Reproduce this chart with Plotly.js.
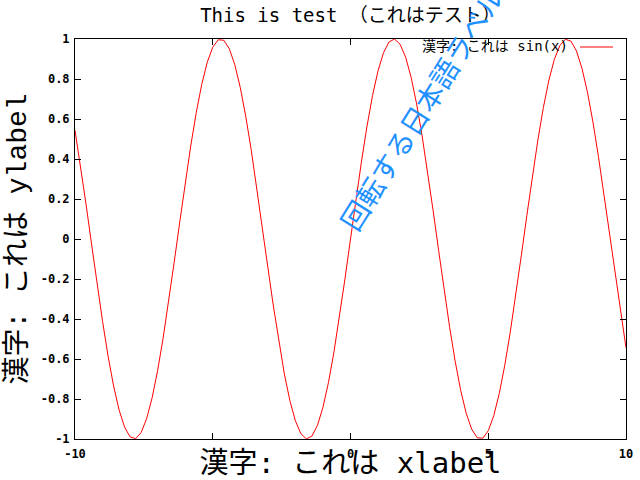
<!DOCTYPE html>
<html>
<head>
<meta charset="utf-8">
<script src="https://cdn.plot.ly/plotly-3.0.1.min.js"></script>
<style>html,body{margin:0;padding:0;background:#fff}#chart{width:640px;height:480px}</style>
</head>
<body>
<div id="chart"></div>
<script>
const xValues = [-10,-9.8,-9.6,-9.4,-9.2,-9,-8.8,-8.6,-8.4,-8.2,-8,-7.8,-7.6,-7.4,-7.2,-7,-6.8,-6.6,-6.4,-6.2,-6,-5.8,-5.6,-5.4,-5.2,-5,-4.8,-4.6,-4.4,-4.2,-4,-3.8,-3.6,-3.4,-3.2,-3,-2.8,-2.6,-2.4,-2.2,-2,-1.8,-1.6,-1.4,-1.2,-1,-0.8,-0.6,-0.4,-0.2,0,0.2,0.4,0.6,0.8,1,1.2,1.4,1.6,1.8,2,2.2,2.4,2.6,2.8,3,3.2,3.4,3.6,3.8,4,4.2,4.4,4.6,4.8,5,5.2,5.4,5.6,5.8,6,6.2,6.4,6.6,6.8,7,7.2,7.4,7.6,7.8,8,8.2,8.4,8.6,8.8,9,9.2,9.4,9.6,9.8,10];
const sinValues = [0.544,0.3665,0.1743,-0.0248,-0.2229,-0.4121,-0.5849,-0.7344,-0.8546,-0.9407,-0.9894,-0.9985,-0.9679,-0.8987,-0.7937,-0.657,-0.4941,-0.3115,-0.1165,0.0831,0.2794,0.4646,0.6313,0.7728,0.8835,0.9589,0.9962,0.9937,0.9516,0.8716,0.7568,0.6119,0.4425,0.2555,0.0584,-0.1411,-0.335,-0.5155,-0.6755,-0.8085,-0.9093,-0.9738,-0.9996,-0.9854,-0.932,-0.8415,-0.7174,-0.5646,-0.3894,-0.1987,0,0.1987,0.3894,0.5646,0.7174,0.8415,0.932,0.9854,0.9996,0.9738,0.9093,0.8085,0.6755,0.5155,0.335,0.1411,-0.0584,-0.2555,-0.4425,-0.6119,-0.7568,-0.8716,-0.9516,-0.9937,-0.9962,-0.9589,-0.8835,-0.7728,-0.6313,-0.4646,-0.2794,-0.0831,0.1165,0.3115,0.4941,0.657,0.7937,0.8987,0.9679,0.9985,0.9894,0.9407,0.8546,0.7344,0.5849,0.4121,0.2229,0.0248,-0.1743,-0.3665,-0.544];
const xTickVals = [-10,-5,0,5,10];
const xTickText = ['-10','','0','5','10'];
const yTickVals = [-1,-0.8,-0.6,-0.4,-0.2,0,0.2,0.4,0.6,0.8,1];
const yTickText = ['-1','-0.8','-0.6','-0.4','-0.2','0','0.2','0.4','0.6','0.8','1'];
const seriesName = '漢字: これは sin(x)';
const titleText = 'This is test （これはテスト）';
const xLabel = '漢字: これは xlabel';
const yLabel = '漢字: これは ylabel';
const rotatedLabel = '回転する日本語ラベル';

const monoCjk = '"DejaVu Sans Mono", "Noto Sans CJK JP", monospace';
const cjk = '"Noto Sans CJK JP", "Noto Sans", sans-serif';
const tickFont = {family: '"DejaVu Sans Mono", monospace', size: 12, color: '#000', weight: 'bold'};

const trace = {
  x: xValues, y: sinValues, type: 'scatter', mode: 'lines',
  name: seriesName, line: {color: '#ff0000', width: 1}, showlegend: false
};

const layout = {
  width: 640, height: 480,
  margin: {l: 75, r: 14, t: 39, b: 41},
  paper_bgcolor: '#fff', plot_bgcolor: '#fff',
  title: {text: titleText, font: {family: monoCjk, size: 19, color: '#000'},
          xref: 'paper', x: 0.5, yref: 'container', y: 0.968, yanchor: 'middle'},
  xaxis: {
    range: [-10, 10], tickvals: xTickVals, ticktext: xTickText,
    ticks: 'inside', ticklen: 6, tickcolor: '#000', mirror: 'ticks',
    showline: true, linecolor: '#000', linewidth: 1, showgrid: false, zeroline: false,
    tickfont: tickFont, ticklabelstandoff: 4,
    title: {text: xLabel, font: {family: monoCjk, size: 29, color: '#000'}, standoff: 2}
  },
  yaxis: {
    range: [-1, 1], tickvals: yTickVals, ticktext: yTickText,
    ticks: 'inside', ticklen: 6, tickcolor: '#000', mirror: 'ticks',
    showline: true, linecolor: '#000', linewidth: 1, showgrid: false, zeroline: false,
    tickfont: tickFont, ticklabelstandoff: 2,
    title: {text: yLabel, font: {family: '"Liberation Mono", "Noto Sans CJK JP", monospace', size: 28, color: '#000'}, standoff: 5}
  },
  shapes: [
    {type: 'line', xref: 'paper', yref: 'paper', x0: 0.9165, x1: 0.9764, y0: 0.98, y1: 0.98,
     line: {color: '#ff0000', width: 1}}
  ],
  annotations: [
    {text: seriesName, xref: 'paper', yref: 'paper', x: 0.898, y: 0.9825,
     xanchor: 'right', yanchor: 'middle', showarrow: false,
     font: {family: monoCjk, size: 14, color: '#000'}},
    {text: rotatedLabel, xref: 'paper', yref: 'paper', x: 0.628, y: 0.8275,
     xanchor: 'center', yanchor: 'middle', showarrow: false, textangle: -58,
     font: {family: cjk, size: 28, color: '#1e90ff'}}
  ]
};

Plotly.newPlot('chart', [trace], layout, {staticPlot: true, displayModeBar: false});
</script>
</body>
</html>
